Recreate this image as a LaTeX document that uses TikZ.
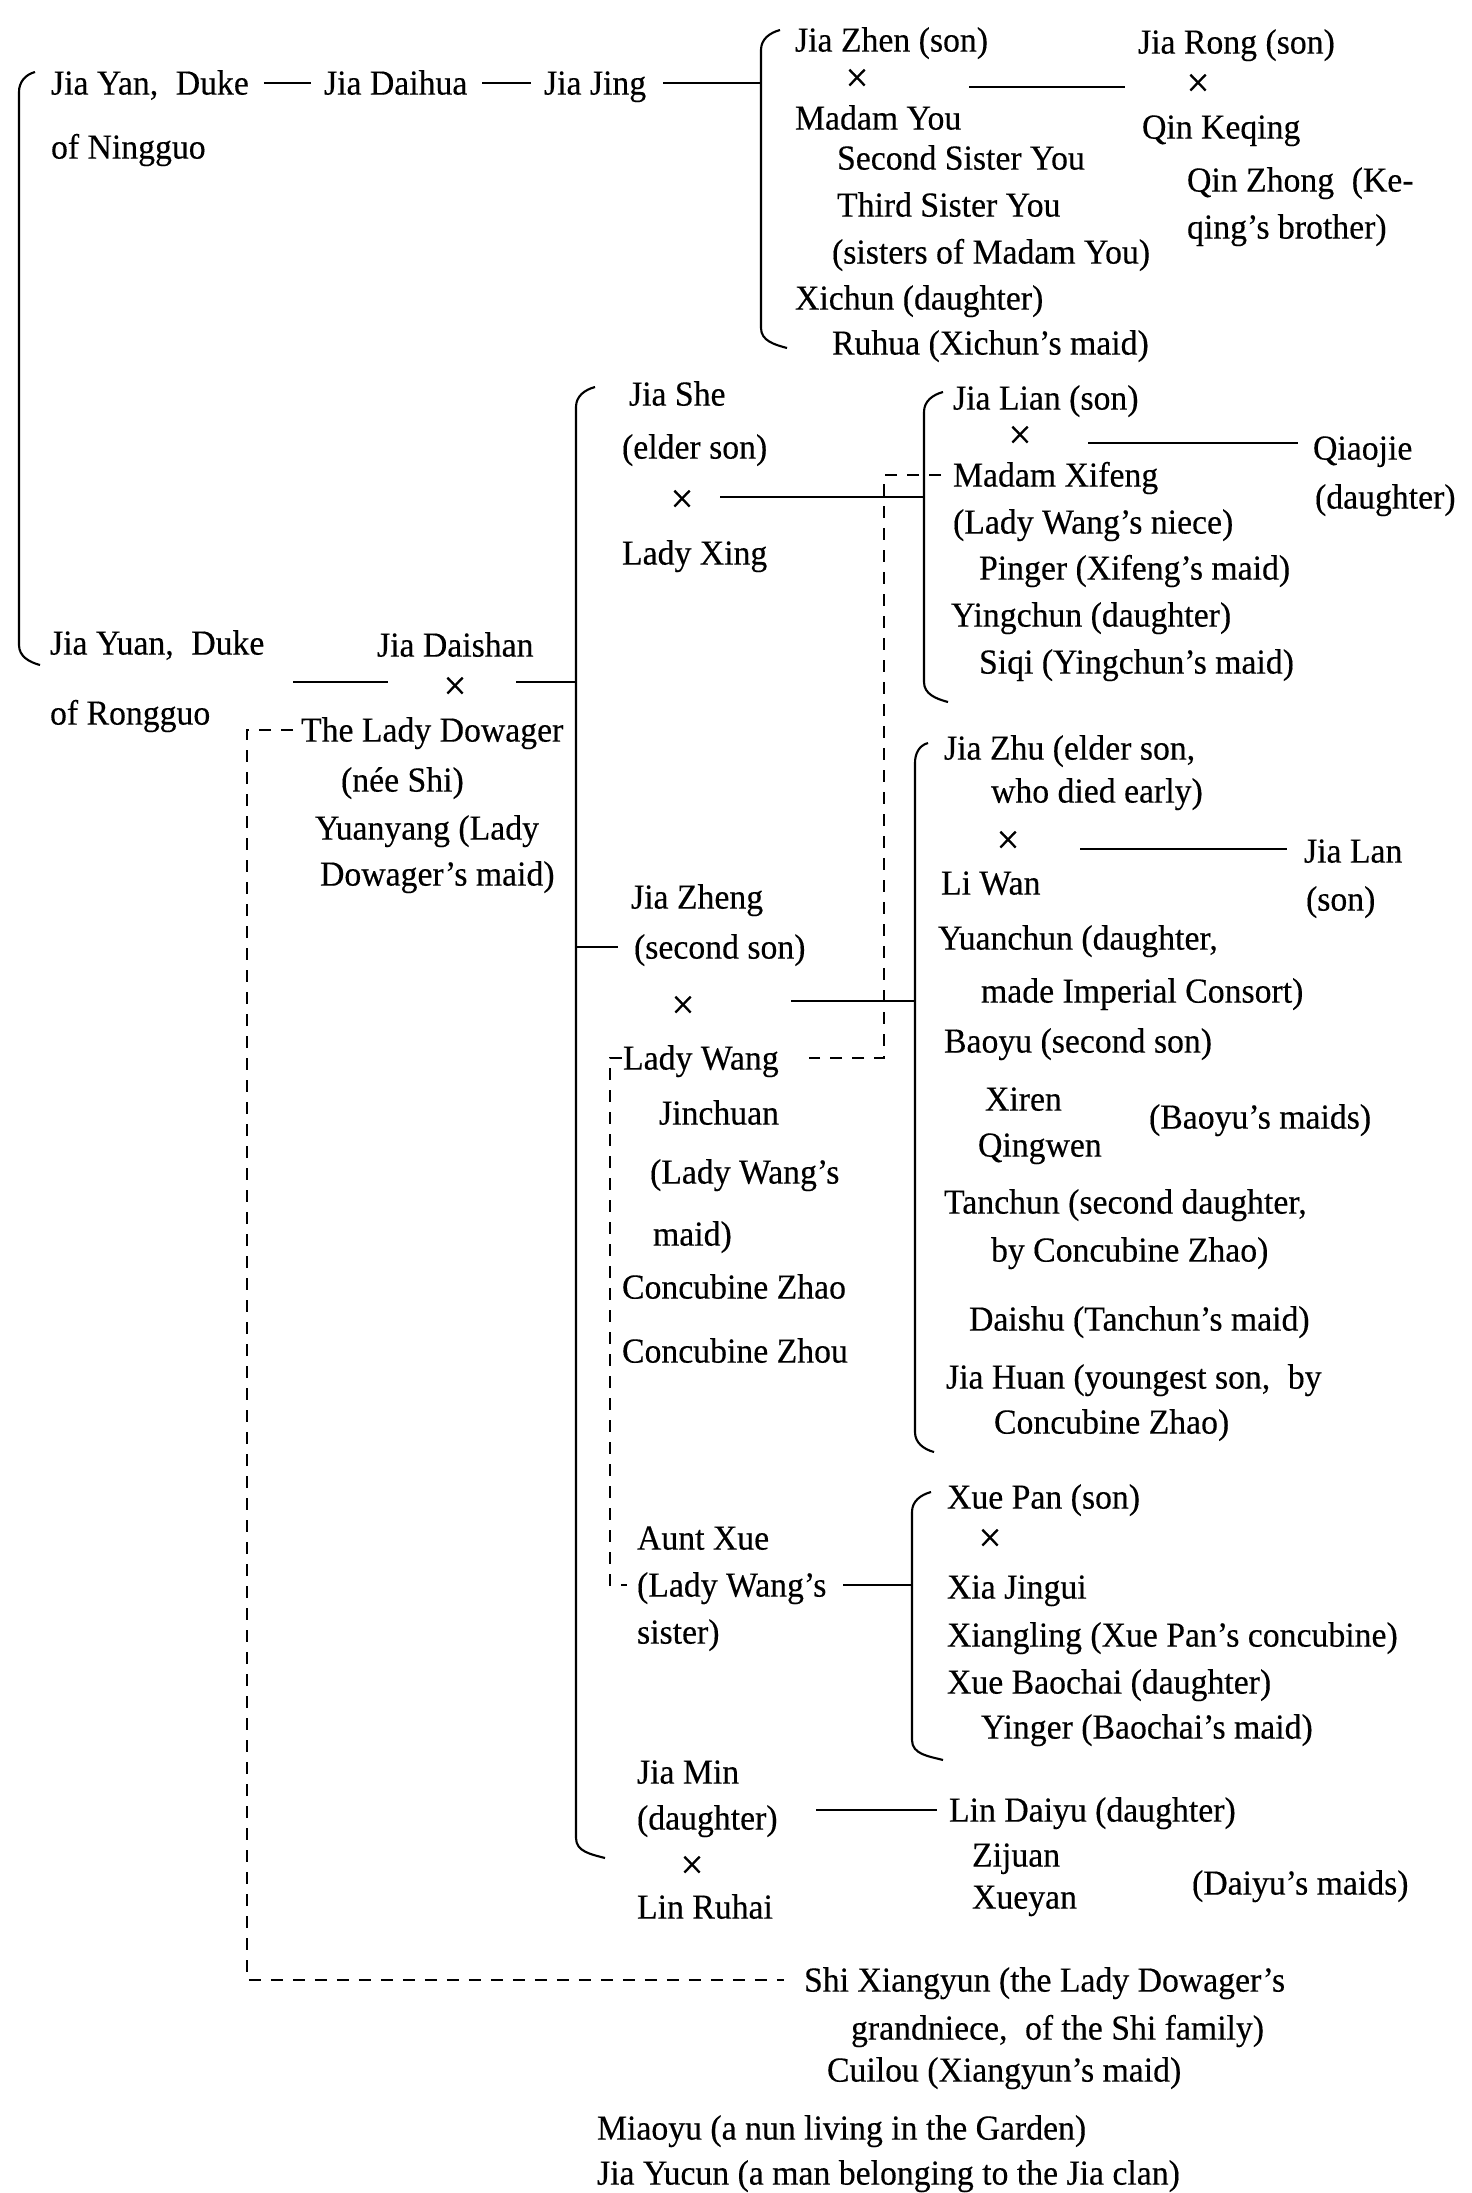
\documentclass[tikz,border=0pt]{standalone}
\usepackage{fontspec}
\setmainfont{Liberation Serif}[FakeStretch=0.96, FakeBold=0.3]

\begin{document}
\begin{tikzpicture}[
    line width=0.6pt,
    every node/.style={anchor=west, inner sep=0pt, text height=6.6pt, text depth=0pt,
                       font=\fontsize{10pt}{12pt}\selectfont},
    wed/.style={anchor=center, font=\fontsize{12pt}{12pt}\selectfont},
    link/.style={shorten <=1.4mm, shorten >=1.2mm},
    kin/.style={dash pattern=on 1.2mm off 1mm}
]
\useasboundingbox (0,0) rectangle (14.72,-21.93);
% nodes
\node (yan)    at (0.50, -0.83) {Jia Yan,\enspace Duke};
\node (yan2)   at (0.50, -1.47) {of Ningguo};
    \node (daihua) at (3.23, -0.83) {Jia Daihua};
        \node (jing)   at (5.43, -0.83) {Jia Jing};
            \node (zhen)      at (7.94, -0.40) {Jia Zhen (son)};
            \node[wed] (zhen-x) at (8.57, -0.80) {×};
            \node (you)       at (7.94, -1.18) {Madam You};
                \node (you2)  at (8.36, -1.58) {Second Sister You};
                \node (you3)  at (8.36, -2.05) {Third Sister You};
                \node (you4)  at (8.31, -2.52) {(sisters of Madam You)};
            \node (xichun)    at (7.94, -2.98) {Xichun (daughter)};
                \node (ruhua) at (8.31, -3.43) {Ruhua (Xichun’s maid)};
                \node (rong)       at (11.37, -0.42) {Jia Rong (son)};
                \node[wed] (rong-x) at (11.98, -0.85) {×};
                \node (keqing)     at (11.41, -1.27) {Qin Keqing};
                    \node (qinzhong)  at (11.86, -1.80) {Qin Zhong\enspace(Ke-};
                    \node (qinzhong2) at (11.86, -2.27) {qing’s brother)};
\node (yuan)   at (0.49, -6.43) {Jia Yuan,\enspace Duke};
\node (yuan2)  at (0.49, -7.13) {of Rongguo};
    \node (daishan)   at (3.76, -6.45) {Jia Daishan};
    \node[wed] (daishan-x) at (4.55, -6.88) {×};
    \node (dowager)   at (3.00, -7.30) {The Lady Dowager};
    \node (dowager2)  at (3.40, -7.80) {(née Shi)};
        \node (yuanyang)  at (3.14, -8.28) {Yuanyang (Lady};
        \node (yuanyang2) at (3.19, -8.74) {Dowager’s maid)};
        \node (she)    at (6.28, -3.94) {Jia She};
        \node (she2)   at (6.21, -4.47) {(elder son)};
        \node[wed] (she-x) at (6.82, -5.01) {×};
        \node (xing)   at (6.21, -5.53) {Lady Xing};
            \node (lian)     at (9.52, -3.98) {Jia Lian (son)};
            \node[wed] (lian-x) at (10.20, -4.37) {×};
            \node (xifeng)   at (9.52, -4.75) {Madam Xifeng};
            \node (xifeng2)  at (9.52, -5.22) {(Lady Wang’s niece)};
                \node (pinger) at (9.78, -5.68) {Pinger (Xifeng’s maid)};
            \node (yingchun) at (9.50, -6.15) {Yingchun (daughter)};
                \node (siqi)   at (9.78, -6.62) {Siqi (Yingchun’s maid)};
                \node (qiaojie)  at (13.12, -4.48) {Qiaojie};
                \node (qiaojie2) at (13.14, -4.97) {(daughter)};
        \node (zheng)  at (6.30, -8.97) {Jia Zheng};
        \node (zheng2) at (6.33, -9.47) {(second son)};
        \node[wed] (zheng-x) at (6.83, -10.07) {×};
        \node (wang)   at (6.22, -10.58) {Lady Wang};
            \node (jinchuan)  at (6.58, -11.13) {Jinchuan};
            \node (jinchuan2) at (6.49, -11.72) {(Lady Wang’s};
            \node (jinchuan3) at (6.52, -12.34) {maid)};
        \node (zhao)   at (6.21, -12.87) {Concubine Zhao};
        \node (zhou)   at (6.21, -13.51) {Concubine Zhou};
            \node (zhu)       at (9.43, -7.48) {Jia Zhu (elder son,};
            \node (zhu2)      at (9.90, -7.91) {who died early)};
            \node[wed] (zhu-x) at (10.08, -8.42) {×};
            \node (liwan)     at (9.40, -8.83) {Li Wan};
                \node (lan)   at (13.03, -8.51) {Jia Lan};
                \node (lan2)  at (13.05, -8.99) {(son)};
            \node (yuanchun)  at (9.37, -9.38) {Yuanchun (daughter,};
            \node (yuanchun2) at (9.80, -9.91) {made Imperial Consort)};
            \node (baoyu)     at (9.43, -10.41) {Baoyu (second son)};
                \node (xiren)      at (9.84, -10.99) {Xiren};
                \node (qingwen)    at (9.77, -11.45) {Qingwen};
                \node (baoyumaids) at (11.48, -11.17) {(Baoyu’s maids)};
            \node (tanchun)   at (9.43, -12.02) {Tanchun (second daughter,};
            \node (tanchun2)  at (9.90, -12.50) {by Concubine Zhao)};
                \node (daishu) at (9.68, -13.19) {Daishu (Tanchun’s maid)};
            \node (huan)      at (9.45, -13.77) {Jia Huan (youngest son,\enspace by};
            \node (huan2)     at (9.93, -14.22) {Concubine Zhao)};
        \node (auntxue)  at (6.36, -15.38) {Aunt Xue};
        \node (auntxue2) at (6.36, -15.85) {(Lady Wang’s};
        \node (auntxue3) at (6.36, -16.32) {sister)};
            \node (xuepan)    at (9.46, -14.97) {Xue Pan (son)};
            \node[wed] (xuepan-x) at (9.90, -15.40) {×};
            \node (jingui)    at (9.46, -15.87) {Xia Jingui};
            \node (xiangling) at (9.46, -16.35) {Xiangling (Xue Pan’s concubine)};
            \node (baochai)   at (9.46, -16.82) {Xue Baochai (daughter)};
                \node (yinger) at (9.80, -17.27) {Yinger (Baochai’s maid)};
        \node (jiamin)  at (6.36, -17.72) {Jia Min};
        \node (jiamin2) at (6.36, -18.18) {(daughter)};
        \node[wed] (jiamin-x) at (6.92, -18.67) {×};
        \node (ruhai)   at (6.36, -19.07) {Lin Ruhai};
            \node (daiyu)      at (9.48, -18.10) {Lin Daiyu (daughter)};
                \node (zijuan) at (9.71, -18.55) {Zijuan};
                \node (xueyan) at (9.71, -18.97) {Xueyan};
                \node (daiyumaids) at (11.91, -18.83) {(Daiyu’s maids)};
    \node (xiangyun)  at (8.03, -19.80) {Shi Xiangyun (the Lady Dowager’s};
    \node (xiangyun2) at (8.50, -20.28) {grandniece,\enspace of the Shi family)};
        \node (cuilou) at (8.26, -20.70) {Cuilou (Xiangyun’s maid)};
\node (miaoyu) at (5.96, -21.28) {Miaoyu (a nun living in the Garden)};
\node (yucun)  at (5.96, -21.73) {Jia Yucun (a man belonging to the Jia clan)};
% brackets
\draw (0.35, -0.72) to[out=195, in=90] (0.19, -0.92) -- (0.19, -6.45) to[out=-90, in=165] (0.40, -6.65);
\draw (7.80, -0.30) to[out=195, in=90] (7.61, -0.50) -- (7.61, -3.28) to[out=-90, in=165] (7.87, -3.48);
\draw (5.95, -3.87) to[out=195, in=90] (5.76, -4.07) -- (5.76, -18.38) to[out=-90, in=165] (6.05, -18.58);
\draw (9.43, -3.92) to[out=195, in=90] (9.24, -4.12) -- (9.24, -6.82) to[out=-90, in=165] (9.48, -7.02);
\draw (9.28, -7.43) to[out=195, in=90] (9.15, -7.63) -- (9.15, -14.32) to[out=-90, in=165] (9.34, -14.52);
\draw (9.31, -14.92) to[out=195, in=90] (9.12, -15.12) -- (9.12, -17.40) to[out=-90, in=165] (9.43, -17.60);
% line ends
\coordinate (b-jing)    at (7.61, -0.80);
\coordinate (b-daishan) at (5.76, -6.82);
\coordinate (b-lian)    at (9.24, -4.97);
\coordinate (b-zhu)     at (9.15, -10.01);
\coordinate (b-xue)     at (9.12, -15.85);
\coordinate (zy-a) at (9.69, -0.87);
\coordinate (zy-b) at (11.25, -0.87);
\coordinate (ds-a) at (2.93, -6.82);
\coordinate (ds-b) at (3.88, -6.82);
\coordinate (ds-c) at (5.16, -6.82);
\coordinate (sh-a) at (7.20, -4.97);
\coordinate (li-a) at (10.88, -4.43);
\coordinate (li-b) at (12.98, -4.43);
\coordinate (zg-a) at (7.91, -10.01);
\coordinate (zu-a) at (10.80, -8.49);
\coordinate (zu-b) at (12.87, -8.49);
\coordinate (mn-a) at (8.16, -18.10);
\coordinate (kin-x) at (2.47, -7.31);
\coordinate (kin-y) at (8.84, -4.78);
\coordinate (kin-z) at (6.10, -10.53);
% lines
\draw[link] (yan) -- (daihua);
\draw[link] (daihua) -- (jing);
\draw[shorten <=1.6mm] (jing.east) -- (jing.east -| b-jing);
\draw (zy-a) -- (zy-b);
\draw (ds-a) -- (ds-b);
\draw (ds-c) -- (b-daishan);
\draw (sh-a) -- (b-lian);
\draw (li-a) -- (li-b);
\draw[shorten >=1.5mm] (zheng2.west -| b-daishan) -- (zheng2.west);
\draw (zg-a) -- (b-zhu);
\draw (zu-a) -- (zu-b);
\draw[shorten <=1.6mm] (auntxue2.east) -- (auntxue2.east -| b-xue);
\draw[shorten >=1.1mm] (mn-a) -- (daiyu.west);
% dashed lines
\draw[kin, shorten <=0.7mm, shorten >=1.9mm] (dowager.west) -- (dowager.west -| kin-x)
    -- (xiangyun.west -| kin-x) -- (xiangyun.west);
\draw[kin, shorten <=1.1mm, shorten >=2.9mm] (xifeng.west) -- (xifeng.west -| kin-y)
    -- (wang.east -| kin-y) -- (wang.east);
\draw[kin, shorten >=0.9mm] (wang.west) -- (wang.west -| kin-z)
    -- (auntxue2.west -| kin-z) -- (auntxue2.west);
\end{tikzpicture}
\end{document}
